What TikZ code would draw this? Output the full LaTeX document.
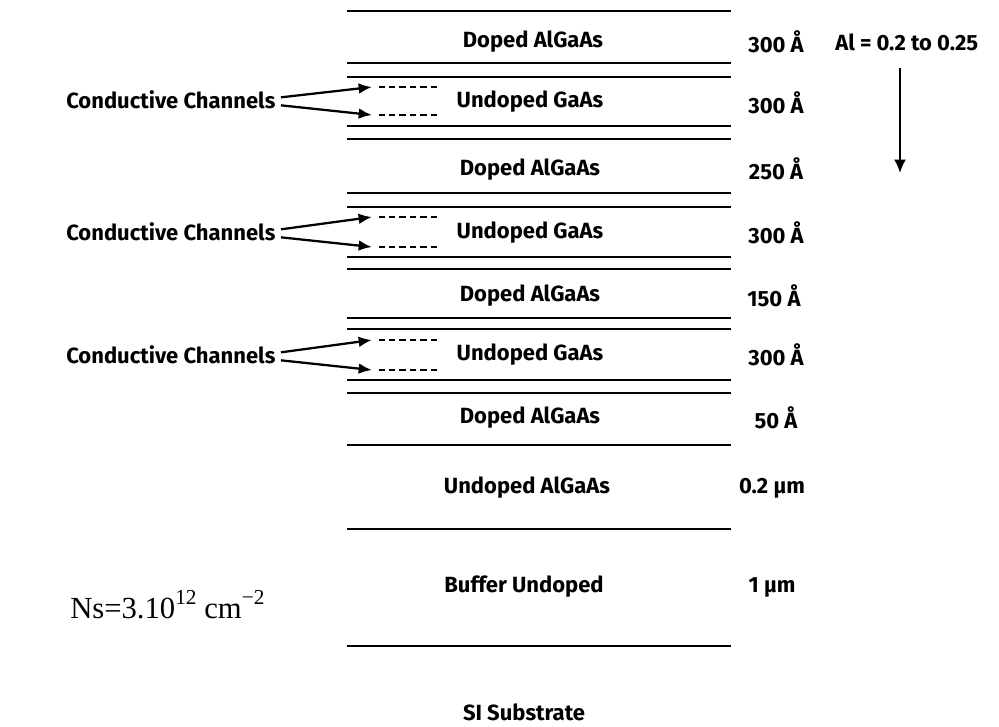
\documentclass[tikz,border=0pt]{standalone}
\usepackage{fontspec}
\newfontfamily\lblfont{Fira Sans}
\newfontfamily\tmsfont{Liberation Serif}
\usetikzlibrary{arrows.meta}
\begin{document}
\begin{tikzpicture}[x=0.75pt,y=-0.75pt,
  layerline/.style={line width=2.1pt},
  lab/.style={font=\lblfont\bfseries\fontsize{16.5}{18}\selectfont, inner sep=0pt},
  chan/.style={line width=1.8pt, dash pattern=on 4.8pt off 3pt},
  ptr/.style={line width=1.7pt, -{Latex[length=10pt,width=8pt]}},
  alptr/.style={line width=1.7pt, -{Latex[length=10pt,width=9pt]}}]
\path[use as bounding box] (0,0) rectangle (999,727);
% layer boundaries
\foreach \y in {11,63,77,126,139,193,207,257,269,318,329,380,393,445,529,646}
  \draw[layerline] (347,\y) -- (731,\y);
% layer names
\node[lab] (l1) at (533,42) {Doped AlGaAs};
\node[lab] (l2) at (530,102) {Undoped GaAs};
\node[lab] (l3) at (530,170) {Doped AlGaAs};
\node[lab] (l4) at (530,233) {Undoped GaAs};
\node[lab] (l5) at (530,296) {Doped AlGaAs};
\node[lab] (l6) at (530,355) {Undoped GaAs};
\node[lab] (l7) at (530,418) {Doped AlGaAs};
\node[lab] (l8) at (527,488) {Undoped AlGaAs};
\node[lab] (l9) at (524,587) {Buffer Undoped};
\node[lab] (l10) at (524,712) {SI Substrate};
% thicknesses
\node[lab] (t1) at (776,42) {300 Å};
\node[lab] (t2) at (776,103) {300 Å};
\node[lab] (t3) at (776,169) {250 Å};
\node[lab] (t4) at (776,233) {300 Å};
\node[lab] (t5) at (774,296) {150 Å};
\node[lab] (t6) at (776,355) {300 Å};
\node[lab] (t7) at (776,418) {50 Å};
\node[lab] (t8) at (772,488) {0.2 µm};
\node[lab] (t9) at (772,587) {1 µm};
% Al grading
\node[lab, anchor=west] (al) at (835,42) {Al = 0.2 to 0.25};
\coordinate (alA) at (900,68);
\coordinate (alB) at (900,173);
\draw[alptr] (alA) -- (alB);
% conductive channels
\foreach \i/\yt/\ya/\yb in {1/100/87/115, 2/232/217/247, 3/355/340/370}{
  \node[lab, anchor=west] (cc\i) at (66,\yt) {Conductive Channels};
  \coordinate (ca\i) at (372,\ya);
  \coordinate (cb\i) at (372,\yb);
  \coordinate (da\i) at (440,\ya);
  \coordinate (db\i) at (440,\yb);
  \draw[ptr] ([xshift=4pt,yshift=2pt]cc\i.east) -- (ca\i);
  \draw[ptr] ([xshift=4pt,yshift=-4pt]cc\i.east) -- (cb\i);
  \draw[chan] ([xshift=5pt]ca\i) -- (da\i);
  \draw[chan] ([xshift=5pt]cb\i) -- (db\i);
}
% sheet density
\node[font=\tmsfont\fontsize{23}{26}\selectfont, anchor=base west, inner sep=0pt] (ns) at (70,618)
  {Ns=3.10\raisebox{0.45em}{\fontsize{16}{18}\selectfont 12} cm\raisebox{0.45em}{\fontsize{16}{18}\selectfont −2}};
\end{tikzpicture}
\end{document}
